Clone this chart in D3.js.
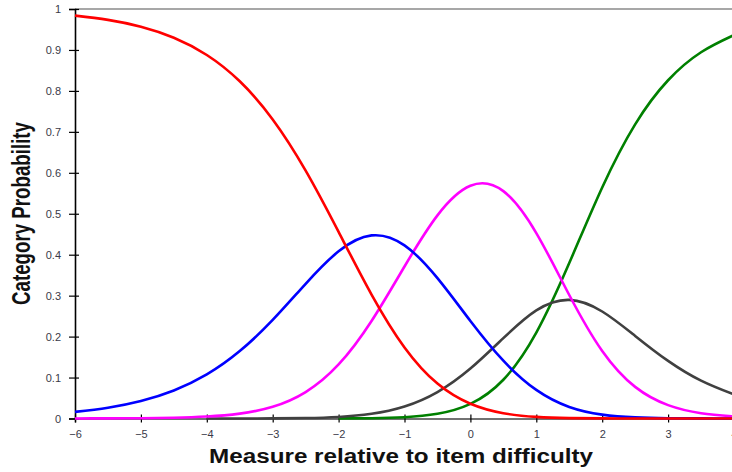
<!DOCTYPE html>
<html>
<head>
<meta charset="utf-8">
<script src="https://cdn.jsdelivr.net/npm/d3@7"></script>
<style>
  body { margin: 0; background: #fff; }
  svg { display: block; }
</style>
</head>
<body>
<div id="chart"></div>
<script>
// measure values (logits) where the curves were read
const measures = [-6, -5.5, -5, -4.5, -4, -3.5, -3, -2.5, -2, -1.5, -1, -0.5, 0, 0.5, 1, 1.5, 2, 2.5, 3, 3.5, 4];

// category probabilities, null where no line is drawn
const cat0 = [0.9838, 0.9734, 0.9567, 0.9298, 0.8877, 0.8235, 0.7304, 0.6054, 0.4558, 0.3027, 0.1736, 0.0853, 0.0360, 0.0129, 0.0039, 0.0010, 0.0002, 0, 0, 0, 0];
const cat1 = [0.0161, 0.0263, 0.0427, 0.0684, 0.1076, 0.1646, 0.2407, 0.3290, 0.4083, 0.4471, 0.4228, 0.3427, 0.2381, 0.1411, 0.0698, 0.0282, 0.0094, 0.0027, 0.0007, 0.0002, 0];
const cat2 = [0.0001, 0.0003, 0.0007, 0.0018, 0.0047, 0.0119, 0.0286, 0.0645, 0.1319, 0.2381, 0.3712, 0.4961, 0.5684, 0.5552, 0.4528, 0.3016, 0.1649, 0.0772, 0.0327, 0.0130, 0.0050];
const cat3 = [null, null, null, null, 0.0001, 0.0001, 0.0003, 0.0011, 0.0038, 0.0114, 0.0293, 0.0645, 0.1219, 0.1962, 0.2639, 0.2897, 0.2613, 0.2017, 0.1407, 0.0924, 0.0587];
const cat4 = [null, null, null, null, null, null, null, null, 0.0002, 0.0007, 0.0031, 0.0114, 0.0356, 0.0946, 0.2097, 0.3796, 0.5643, 0.7184, 0.8260, 0.8944, 0.9363];

const xTicks = [-6, -5, -4, -3, -2, -1, 0, 1, 2, 3, 4];
const yTicks = [0, 0.1, 0.2, 0.3, 0.4, 0.5, 0.6, 0.7, 0.8, 0.9, 1];

// drawn last-category first so the red curve ends up on top
const series = [
  { name: "4", values: cat4, color: "#008000" },
  { name: "3", values: cat3, color: "#404040" },
  { name: "2", values: cat2, color: "#ff00ff" },
  { name: "1", values: cat1, color: "#0000ff" },
  { name: "0", values: cat0, color: "#ff0000" },
];

const width = 732, height = 472;

const svg = d3.select("#chart")
  .append("svg")
  .attr("width", width)
  .attr("height", height);

const x = d3.scaleLinear().domain([-6, 4]).range([75, 734]);
const y = d3.scaleLinear().domain([0, 1]).range([418.5, 9]);

// frame line along the top of the plot
svg.append("line")
  .attr("x1", x(-6)).attr("x2", x(4))
  .attr("y1", y(1)).attr("y2", y(1))
  .attr("stroke", "#8a8a8a")
  .attr("stroke-width", 1.5);

// y axis, ticks cross the axis line
const yAxis = svg.append("g")
  .attr("transform", `translate(${x(-6)},0)`)
  .call(d3.axisLeft(y).tickValues(yTicks).tickSize(6).tickPadding(8).tickFormat(d3.format("")));
yAxis.select(".domain").attr("stroke", "#000").attr("stroke-width", 1.6);
yAxis.selectAll(".tick line").attr("x1", 4).attr("stroke", "#000").attr("stroke-width", 1.2);
yAxis.selectAll(".tick text")
  .attr("fill", "#3a3a48")
  .style("font-family", "Liberation Sans, Arial, sans-serif")
  .style("font-size", "11px");

// x axis
const xAxis = svg.append("g")
  .attr("transform", `translate(0,${y(0)})`)
  .call(d3.axisBottom(x).tickValues(xTicks).tickSize(4).tickPadding(8).tickFormat(d3.format("")));
xAxis.select(".domain").attr("stroke", "#444").attr("stroke-width", 1.6);
xAxis.selectAll(".tick line").attr("y1", -4).attr("stroke", "#000").attr("stroke-width", 1.2);
xAxis.selectAll(".tick text")
  .attr("fill", "#3a3a48")
  .style("font-family", "Liberation Sans, Arial, sans-serif")
  .style("font-size", "11px");

// probability curves
const line = d3.line()
  .defined(d => d[1] != null)
  .x(d => x(d[0]))
  .y(d => y(Math.max(0, d[1])))
  .curve(d3.curveNatural);

svg.append("g")
  .selectAll("path")
  .data(series)
  .join("path")
  .attr("fill", "none")
  .attr("stroke", d => d.color)
  .attr("stroke-width", 2.6)
  .attr("d", d => line(measures.map((m, i) => [m, d.values[i]])));

// axis titles
svg.append("text")
  .attr("x", 401)
  .attr("y", 463)
  .attr("text-anchor", "middle")
  .attr("fill", "#111")
  .attr("textLength", 384)
  .attr("lengthAdjust", "spacingAndGlyphs")
  .style("font-family", "Liberation Sans, Arial, sans-serif")
  .style("font-weight", "bold")
  .style("font-size", "20px")
  .text("Measure relative to item difficulty");

svg.append("text")
  .attr("transform", `translate(30,${213.5}) rotate(-90)`)
  .attr("text-anchor", "middle")
  .attr("fill", "#111")
  .attr("textLength", 183)
  .attr("lengthAdjust", "spacingAndGlyphs")
  .style("font-family", "Liberation Sans Narrow, Arial Narrow, sans-serif")
  .style("font-weight", "bold")
  .style("font-size", "25px")
  .text("Category Probability");
</script>
</body>
</html>
